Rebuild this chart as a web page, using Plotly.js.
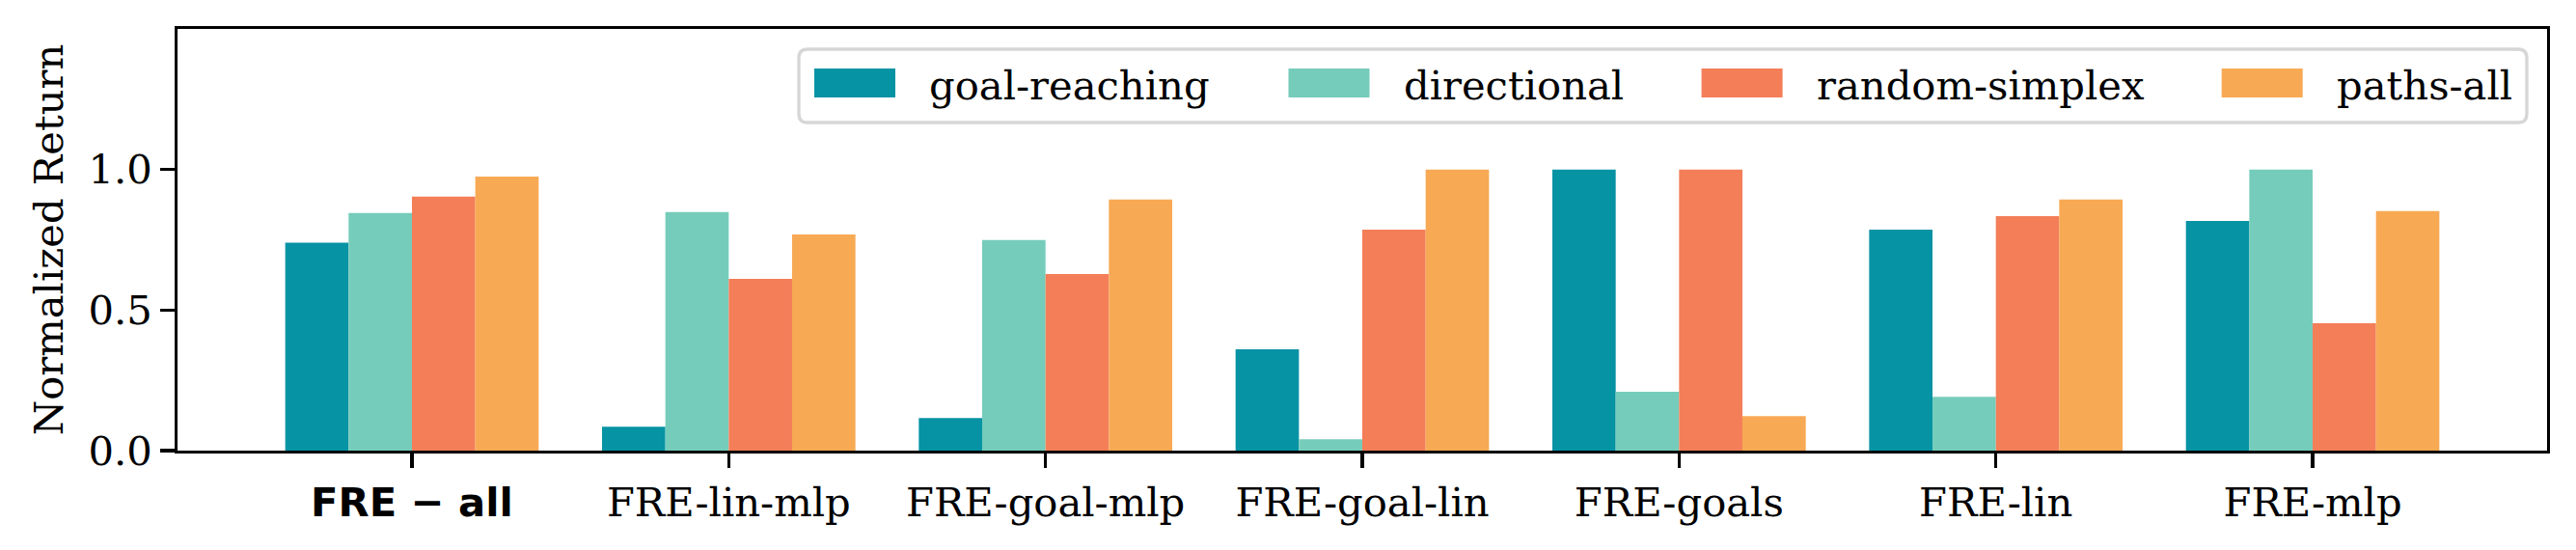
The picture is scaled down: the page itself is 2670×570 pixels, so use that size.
<!DOCTYPE html>
<html>
<head>
<meta charset="utf-8">
<script src="https://cdn.plot.ly/plotly-3.0.1.min.js"></script>
<style>
  html, body { margin: 0; padding: 0; background: #ffffff; }
  #chart { width: 2670px; height: 570px; }
</style>
</head>
<body>
<div id="chart"></div>
<script>
/* Normalized return per FRE variant, grouped by eval task family. */

const CATEGORIES = ["FRE-all", "FRE-lin-mlp", "FRE-goal-mlp", "FRE-goal-lin", "FRE-goals", "FRE-lin", "FRE-mlp"];
const TICK_LABELS = [
  "<b><span style=\"font-family:DejaVu Sans\">FRE − all</span></b>",
  "FRE-lin-mlp", "FRE-goal-mlp", "FRE-goal-lin", "FRE-goals", "FRE-lin", "FRE-mlp",
];
const SERIES_NAMES = ["goal-reaching", "directional", "random-simplex", "paths-all"];
const GOAL_REACHING = [0.74, 0.085, 0.116, 0.36, 1.0, 0.786, 0.817];
const DIRECTIONAL = [0.845, 0.849, 0.749, 0.04, 0.209, 0.191, 1.0];
const RANDOM_SIMPLEX = [0.904, 0.611, 0.628, 0.786, 1.0, 0.834, 0.453];
const PATHS_ALL = [0.975, 0.769, 0.893, 1.0, 0.123, 0.893, 0.852];
const Y_TICKS = [0, 0.5, 1.0];
const Y_TICK_LABELS = ["0.0", "0.5", "1.0"];

const COLORS = ["#0693a4", "#75ccba", "#f37e58", "#f8a954"];

// figure geometry (px) — matplotlib at 300 dpi, 10pt text
const W = 2670, H = 570;
const M = { l: 184, r: 30, t: 30, b: 103 };
const FS = 41.7;
const SERIF = "DejaVu Serif";
const LW = 3.3;

const px2x = (p) => (p - M.l) / (W - M.l - M.r);
const px2y = (p) => (H - M.b - p) / (H - M.t - M.b);

const values = [GOAL_REACHING, DIRECTIONAL, RANDOM_SIMPLEX, PATHS_ALL];
const traces = values.map((v, i) => ({
  type: "bar",
  x: CATEGORIES,
  y: v,
  name: SERIES_NAMES[i],
  marker: { color: COLORS[i], line: { width: 0 } },
  showlegend: false,
}));

/* hand-built legend: matplotlib-sized swatches (2em x 0.7em) */
const SWATCH_LEFT = [844, 1335.5, 1763.6, 2302.7];
const SWATCH_W = 84, SWATCH_TOP = 71, SWATCH_H = 30, TEXT_PAD = 33;
const shapes = [];
const annotations = [];

// legend frame, rounded corners
{
  const x0 = px2x(828), x1 = px2x(2619), y0 = px2y(127), y1 = px2y(51);
  const rx = 9 / (W - M.l - M.r), ry = 9 / (H - M.t - M.b);
  shapes.push({
    type: "path", xref: "paper", yref: "paper",
    path: `M${x0 + rx},${y0} L${x1 - rx},${y0} Q${x1},${y0} ${x1},${y0 + ry} L${x1},${y1 - ry} Q${x1},${y1} ${x1 - rx},${y1} ` +
          `L${x0 + rx},${y1} Q${x0},${y1} ${x0},${y1 - ry} L${x0},${y0 + ry} Q${x0},${y0} ${x0 + rx},${y0} Z`,
    line: { color: "#d6d6d6", width: LW },
    fillcolor: "rgba(255,255,255,0.8)",
    layer: "above",
  });
}
SERIES_NAMES.forEach((name, i) => {
  shapes.push({
    type: "rect", xref: "paper", yref: "paper",
    x0: px2x(SWATCH_LEFT[i]), x1: px2x(SWATCH_LEFT[i] + SWATCH_W),
    y0: px2y(SWATCH_TOP + SWATCH_H), y1: px2y(SWATCH_TOP),
    line: { width: 0 }, fillcolor: COLORS[i], layer: "above",
  });
  annotations.push({
    xref: "paper", yref: "paper",
    x: px2x(SWATCH_LEFT[i] + SWATCH_W + TEXT_PAD), y: px2y(SWATCH_TOP + SWATCH_H / 2 + 2),
    xanchor: "left", yanchor: "middle",
    text: name, showarrow: false,
    font: { family: SERIF, size: FS, color: "#000000" },
  });
});

const layout = {
  width: W, height: H,
  margin: M,
  paper_bgcolor: "#ffffff",
  plot_bgcolor: "#ffffff",
  font: { family: SERIF, size: FS, color: "#000000" },
  barmode: "group",
  bargap: 0.2,
  bargroupgap: 0,
  showlegend: false,
  xaxis: {
    type: "category",
    range: [-0.74, 6.74],
    tickmode: "array", tickvals: CATEGORIES, ticktext: TICK_LABELS,
    ticks: "outside", ticklen: 14.6, tickwidth: LW, tickcolor: "#000000",
    showline: true, linecolor: "#000000", linewidth: LW, mirror: true,
    showgrid: false, zeroline: false,
    tickfont: { family: SERIF, size: FS, color: "#000000" },
    automargin: false,
  },
  yaxis: {
    range: [0, 1.5],
    tickmode: "array", tickvals: Y_TICKS, ticktext: Y_TICK_LABELS,
    ticks: "outside", ticklen: 14.6, tickwidth: LW, tickcolor: "#000000",
    showline: true, linecolor: "#000000", linewidth: LW, mirror: true,
    showgrid: false, zeroline: false,
    tickfont: { family: SERIF, size: FS, color: "#000000" },
    title: { text: "Normalized Return", font: { family: SERIF, size: FS, color: "#000000" }, standoff: 14 },
    automargin: false,
  },
  shapes,
  annotations,
};

Plotly.newPlot("chart", traces, layout, { displayModeBar: false, staticPlot: true });
</script>
</body>
</html>
